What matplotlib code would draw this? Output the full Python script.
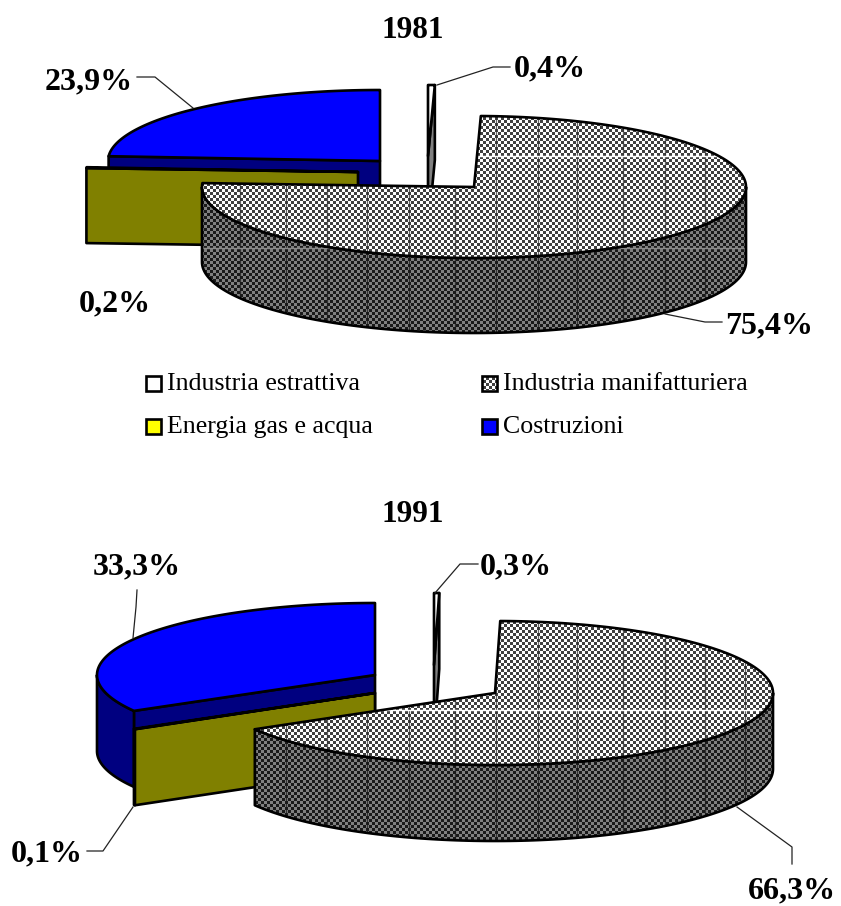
from itertools import count
import numpy as np
import matplotlib
matplotlib.use("Agg")
import matplotlib.pyplot as plt
from matplotlib.colors import ListedColormap
from matplotlib.patches import Polygon, Rectangle

plt.rcParams["font.family"] = ["Liberation Serif", "DejaVu Serif"]

# data
SECTORS = ["Industria estrattiva", "Industria manifatturiera", "Energia gas e acqua", "Costruzioni"]
YEARS = ["1981", "1991"]
VALUES_1981 = [0.4, 75.4, 0.2, 23.9]
VALUES_1991 = [0.3, 66.3, 0.1, 33.3]

# look
TOP_COLORS = ["#ffffff", None, "#ffff00", "#0000ff"]
SIDE_COLORS = ["#808080", None, "#808000", "#000080"]
DRAW_ORDER = [3, 2, 0, 1]
W, H = 841, 906
EDGE_LW = 1.9

# layout, in pixels: exploded centres per sector, radii, depth
LAYOUT = {
    "1981": dict(centers=[(428, 156), (474, 187), (358, 172), (380, 161)], rx=272, ry=71, depth=75,
                 title=(413, 30), seam_top=156, seam_side=248,
                 label_pos=[(550, 69), (769, 326), (115, 304), (89, 82)],
                 leaders=[[(437, 85), (493, 67), (510, 67)],
                          [(665, 314), (705, 322), (722, 322)],
                          [],
                          [(193, 108), (155, 77), (137, 77)]]),
    "1991": dict(centers=[(434, 665), (495, 693), (375, 693), (375, 675)], rx=278, ry=72, depth=76,
                 title=(413, 514), seam_top=710, seam_side=None,
                 label_pos=[(516, 567), (792, 891), (47, 854), (137, 567)],
                 leaders=[[(435, 593), (460, 564), (478, 564)],
                          [(737, 807), (792, 847), (792, 864)],
                          [(133, 807), (103, 851), (87, 851)],
                          [(133, 638), (136, 607), (137, 590)]]),
}
GRID_X = [240, 286, 327, 367, 409, 455, 496, 538, 577, 623, 665, 705, 745]

yy, xx = np.mgrid[0:H, 0:W]
checks = ((xx // 3 + yy // 3) % 2).astype(float)
z = count(2)

fig = plt.figure(figsize=(W / 100, H / 100), dpi=100)
ax = fig.add_axes([0, 0, 1, 1])
ax.axis("off")


def texture(clip, light, dark):
    # pixel checker pattern, clipped to one face of the slice
    im = ax.imshow(checks, cmap=ListedColormap([dark, light]), extent=(0, W, H, 0),
                   interpolation="nearest", vmin=0, vmax=1, zorder=next(z))
    im.set_clip_path(clip)


def seams(clip, hy, top):
    # joins of the pattern tiles: dark verticals, one pale horizontal
    col = "#303030" if top else "#1a1a1a"
    v = ax.vlines(GRID_X, 0, H, color=col, lw=0.9, alpha=0.75, zorder=next(z))
    v.set_clip_path(clip)
    if hy is not None:
        h = ax.hlines([hy], 0, W, color="#ffffff" if top else "#8a8a8a", lw=1.0, zorder=next(z))
        h.set_clip_path(clip)


def xy(c, rx, ry, ang):
    t = np.radians(ang)
    return np.column_stack([c[0] + rx * np.sin(t), c[1] - ry * np.cos(t)])


def face(pts, color):
    p = Polygon(pts, closed=True, facecolor=color or "none", edgecolor="none", zorder=next(z))
    ax.add_patch(p)
    return p


def outline(pts):
    ax.add_patch(Polygon(pts, closed=True, facecolor="none", edgecolor="black", lw=EDGE_LW,
                         joinstyle="round", zorder=next(z)))


def draw_side(pts, color, seam):
    p = face(pts, color)
    if color is None:
        texture(p, "#808080", "#1a1a1a")
        seams(p, seam, False)
    outline(pts)


def draw_slice(i, cfg, a0, a1):
    c, rx, ry, d = cfg["centers"][i], cfg["rx"], cfg["ry"], cfg["depth"]
    top, side = TOP_COLORS[i], SIDE_COLORS[i]
    # cut faces turned to the viewer
    if np.sin(np.radians(a0)) < 0:
        e = xy(c, rx, ry, a0)[0]
        draw_side([c, e, (e[0], e[1] + d), (c[0], c[1] + d)], side, cfg["seam_side"])
    if np.sin(np.radians(a1)) > 0:
        e = xy(c, rx, ry, a1)[0]
        draw_side([c, e, (e[0], e[1] + d), (c[0], c[1] + d)], side, cfg["seam_side"])
    # outer rim, front half only
    r0, r1 = max(a0, 90), min(a1, 270)
    if r1 > r0:
        arc = xy(c, rx, ry, np.linspace(r0, r1, 120))
        draw_side(np.vstack([arc, (arc + [0, d])[::-1]]), side, cfg["seam_side"])
    # top
    arc = xy(c, rx, ry, np.linspace(a0, a1, 240))
    pts = np.vstack([[c], arc])
    p = face(pts, top)
    if top is None:
        texture(p, "#ffffff", "#404040")
        seams(p, cfg["seam_top"], True)
    outline(pts)


def pie(year, values):
    cfg = LAYOUT[year]
    edges = np.concatenate([[0], np.cumsum(values)]) / sum(values) * 360
    for i in DRAW_ORDER:
        draw_slice(i, cfg, edges[i], edges[i + 1])
    tx, ty = cfg["title"]
    ax.text(tx, ty, year, ha="center", va="center", fontsize=22.5, fontweight="bold", zorder=next(z))
    for v, (lx, ly), lead in zip(values, cfg["label_pos"], cfg["leaders"]):
        ax.text(lx, ly, f"{v:.1f}%".replace(".", ","), ha="center", va="center",
                fontsize=23, fontweight="bold", zorder=next(z))
        if lead:
            ax.plot(*zip(*lead), color="#222222", lw=0.9, zorder=next(z))


pie(YEARS[0], VALUES_1981)
pie(YEARS[1], VALUES_1991)

# legend
LEG_X = [146, 482]
LEG_Y = [383, 426]
for i, name in enumerate(SECTORS):
    lx, ly = LEG_X[i % 2], LEG_Y[i // 2]
    r = Rectangle((lx, ly - 7.5), 15, 15, facecolor=TOP_COLORS[i] or "none", edgecolor="none", zorder=next(z))
    ax.add_patch(r)
    if TOP_COLORS[i] is None:
        texture(r, "#ffffff", "#404040")
    ax.add_patch(Rectangle((lx, ly - 7.5), 15, 15, facecolor="none", edgecolor="black", lw=EDGE_LW, zorder=next(z)))
    ax.text(lx + 21, ly + 1, name, ha="left", va="center", fontsize=18.6, zorder=next(z))

ax.set_xlim(0, W)
ax.set_ylim(H, 0)
fig.savefig("out.png", dpi=100)
